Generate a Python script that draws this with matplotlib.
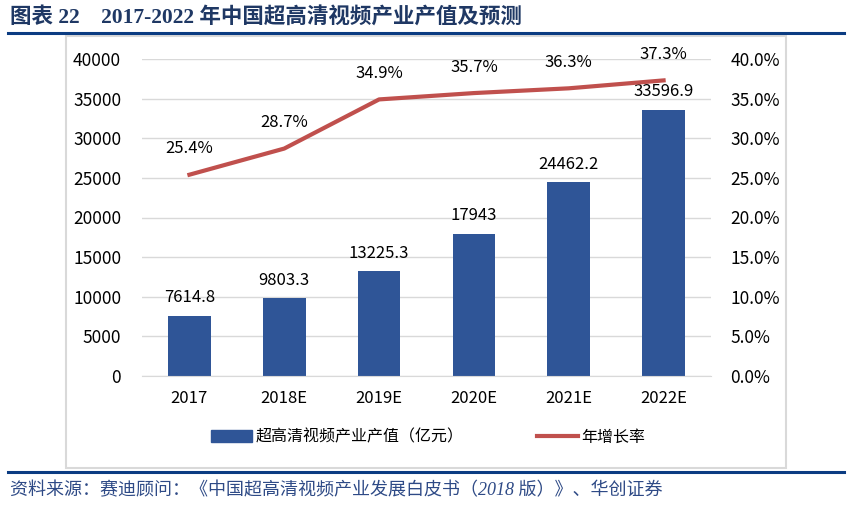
import matplotlib
matplotlib.use("Agg")
import matplotlib.pyplot as plt
from matplotlib.patches import Rectangle, Patch
from matplotlib.lines import Line2D
from matplotlib.ticker import FuncFormatter

plt.rcParams['font.family'] = ['Noto Sans CJK SC', 'DejaVu Sans']

years = ["2017", "2018E", "2019E", "2020E", "2021E", "2022E"]
output = [7614.8, 9803.3, 13225.3, 17943, 24462.2, 33596.9]
output_labels = ["7614.8", "9803.3", "13225.3", "17943", "24462.2", "33596.9"]
growth = [25.4, 28.7, 34.9, 35.7, 36.3, 37.3]

W, H = 861, 505
fig = plt.figure(figsize=(W / 100, H / 100), dpi=100)

# frame round the chart
fig.patches.append(Rectangle((66 / W, 1 - 468 / H), 720 / W, 432 / H,
                             transform=fig.transFigure, fill=False,
                             edgecolor='#D9D9D9', linewidth=1.5))
# blue rules
fig.add_artist(Line2D([8 / W, 844 / W], [1 - 33 / H] * 2, color='#0B3C82', linewidth=2.2))
fig.add_artist(Line2D([8 / W, 844 / W], [1 - 472 / H] * 2, color='#0B3C82', linewidth=2.2))

serif_cjk = ['Liberation Serif', 'Noto Sans CJK SC']
fig.text(10 / W, 1 - 18 / H, "图表 22    2017-2022 年中国超高清视频产业产值及预测",
         fontsize=15.5, fontweight='bold', color='#1F3864', va='center', ha='left',
         family=serif_cjk)
fig.text(10 / W, 1 - 491 / H,
         "资料来源：赛迪顾问：《中国超高清视频产业发展白皮书（2018 版）》、华创证券",
         fontsize=13, color='#2E4A86', va='center', ha='left', style='italic',
         family=serif_cjk)

ax = fig.add_axes([142 / W, 1 - 376 / H, 569 / W, 317 / H])
x = range(len(years))
ax.bar(x, output, width=0.45, color='#2F5597', zorder=2)
ax.set_xlim(-0.5, len(years) - 0.5)
ax.set_ylim(0, 40000)
ax.set_yticks(range(0, 40001, 5000))
ax.grid(axis='y', color='#D9D9D9', linewidth=1)
ax.set_axisbelow(True)
for s in ax.spines.values():
    s.set_visible(False)
ax.spines['bottom'].set_visible(True)
ax.spines['bottom'].set_color('#D9D9D9')
ax.tick_params(axis='y', length=0, labelsize=12.5, pad=15)
ax.tick_params(axis='x', length=0, labelsize=12, pad=10)
ax.set_xticks(list(x))
ax.set_xticklabels(years)
for i, v in enumerate(output):
    ax.text(i, v + 1200, output_labels[i], ha='center', va='bottom', fontsize=12)

ax2 = ax.twinx()
ax2.plot(list(x), growth, color='#C0504D', linewidth=3, zorder=3)
ax2.set_ylim(0, 40)
ax2.set_yticks(range(0, 41, 5))
ax2.yaxis.set_major_formatter(FuncFormatter(lambda v, p: f"{v:.1f}%"))
for s in ax2.spines.values():
    s.set_visible(False)
ax2.tick_params(length=0, labelsize=12.5, pad=14)
for i, v in enumerate(growth):
    ax2.text(i, v + 2.2, f"{v}%", ha='center', va='bottom', fontsize=12)

handles = [Patch(color='#2F5597'), Line2D([], [], color='#C0504D', linewidth=3)]
fig.legend(handles, ["超高清视频产业产值（亿元）", "年增长率"],
           loc='center', bbox_to_anchor=(428 / W, 1 - 437 / H), ncol=2,
           frameon=False, fontsize=11.5, handlelength=2.6, handletextpad=0.2,
           columnspacing=4.6)

fig.savefig("out.png", dpi=100)
